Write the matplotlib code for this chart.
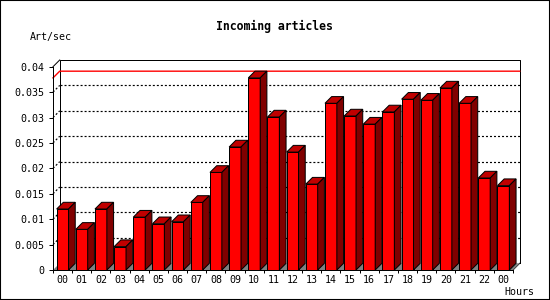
import numpy as np
import matplotlib
matplotlib.use("Agg")
import matplotlib.pyplot as plt
from matplotlib.patches import Polygon, Rectangle

# Data
hours = ["00", "01", "02", "03", "04", "05", "06", "07", "08", "09", "10", "11",
         "12", "13", "14", "15", "16", "17", "18", "19", "20", "21", "22", "00"]
articles = [0.0120, 0.0080, 0.0120, 0.0046, 0.0104, 0.0091, 0.0095, 0.0133,
            0.0192, 0.0242, 0.0378, 0.0301, 0.0232, 0.0169, 0.0328, 0.0303,
            0.0287, 0.0311, 0.0336, 0.0334, 0.0358, 0.0328, 0.0181, 0.0166]
yticks = [0, 0.005, 0.01, 0.015, 0.02, 0.025, 0.03, 0.035, 0.04]
ytick_labels = ["0", "0.005", "0.01", "0.015", "0.02", "0.025", "0.03", "0.035", "0.04"]

MONO = "DejaVu Sans Mono"
LW = 0.72  # ~1 px at 100 dpi

n = len(articles)
ymax = 0.04
w = 0.62      # front face width (category units)
dx = 0.35     # depth offset, x (category units)
dy = 0.00132  # depth offset, y (data units)

fig = plt.figure(figsize=(5.5, 3), dpi=100, facecolor="white")
ax = fig.add_axes([53 / 550, 30 / 300, (519.7 - 53) / 550, 210 / 300])
ax.set_xlim(-0.5, n - 0.5 + dx)
ax.set_ylim(0, ymax + dy)
ax.patch.set_alpha(0)

x = np.arange(n)

# floor
ax.add_patch(Polygon([(-0.5, 0), (n - 0.5, 0), (n - 0.5 + dx, dy), (-0.5 + dx, dy)],
                     closed=True, facecolor="#808080", edgecolor="none", zorder=1))

# back plane grid
for v in yticks[1:-1]:
    ax.plot([-0.5 + dx, n - 0.5 + dx], [v + dy, v + dy], color="black", lw=0.85,
            linestyle=(0, (1.7, 1.7)), zorder=0.5, clip_on=False)
    ax.plot([-0.5, -0.5 + dx], [v, v + dy], color="black", lw=0.85,
            linestyle=(0, (1.7, 1.7)), zorder=0.5, clip_on=False)

# back plane frame
bx0, bx1 = -0.5 + dx, n - 0.5 + dx
ax.plot([bx0, bx0, bx1, bx1], [dy, ymax + dy, ymax + dy, dy], color="black", lw=LW,
        zorder=0.6, clip_on=False)
ax.plot([-0.5, bx0], [ymax, ymax + dy], color="black", lw=LW, zorder=0.6, clip_on=False)
ax.plot([n - 0.5, bx1], [0, dy], color="black", lw=LW, zorder=0.6, clip_on=False)

# max line
vmax = max(articles)
ax.plot([-0.5, bx0, bx1], [vmax, vmax + dy, vmax + dy], color="red", lw=1.0,
        zorder=0.7, clip_on=False)

# bars: front faces
ax.bar(x, articles, width=w, color="#ff0000", edgecolor="black", linewidth=LW, zorder=3)
for xi, v in zip(x, articles):
    l, r = xi - w / 2, xi + w / 2
    top = Polygon([(l, v), (r, v), (r + dx, v + dy), (l + dx, v + dy)], closed=True,
                  facecolor="#c00000", edgecolor="black", linewidth=LW, zorder=3)
    side = Polygon([(r, 0), (r, v), (r + dx, v + dy), (r + dx, dy)], closed=True,
                   facecolor="#800000", edgecolor="black", linewidth=LW, zorder=3)
    ax.add_patch(top)
    ax.add_patch(side)

# axes
for s in ["top", "right"]:
    ax.spines[s].set_visible(False)
ax.spines["left"].set_bounds(0, ymax)
ax.spines["bottom"].set_bounds(-0.5, n - 0.5)
for s in ["left", "bottom"]:
    ax.spines[s].set_linewidth(LW)
    ax.spines[s].set_zorder(4)

ax.set_yticks(yticks)
ax.set_yticklabels(ytick_labels, family=MONO, fontsize=7.2)
ax.tick_params(axis="y", direction="out", length=2.9, width=LW, pad=3.4)

ax.set_xticks(np.arange(-0.5, n, 1))
ax.set_xticklabels([])
ax.set_xticks(x, minor=True)
ax.set_xticklabels(hours, minor=True, family=MONO, fontsize=7.2)
ax.tick_params(axis="x", which="major", direction="out", length=2.2, width=LW)
ax.tick_params(axis="x", which="minor", length=0, pad=3.5)

# texts
fig.text(274 / 550, 1 - 26.7 / 300, "Incoming articles", ha="center", va="center",
         family=MONO, fontweight="bold", fontsize=8.3)
fig.text(30 / 550, 1 - 36.7 / 300, "Art/sec", ha="left", va="center", family=MONO, fontsize=7.2)
fig.text(504 / 550, 1 - 292 / 300, "Hours", ha="left", va="center", family=MONO, fontsize=7.2)

# outer border
fig.patches.append(Rectangle((0, 0), 1, 1, transform=fig.transFigure, fill=False,
                             edgecolor="black", linewidth=1.5))

fig.savefig("out.png", dpi=100, facecolor="white")
